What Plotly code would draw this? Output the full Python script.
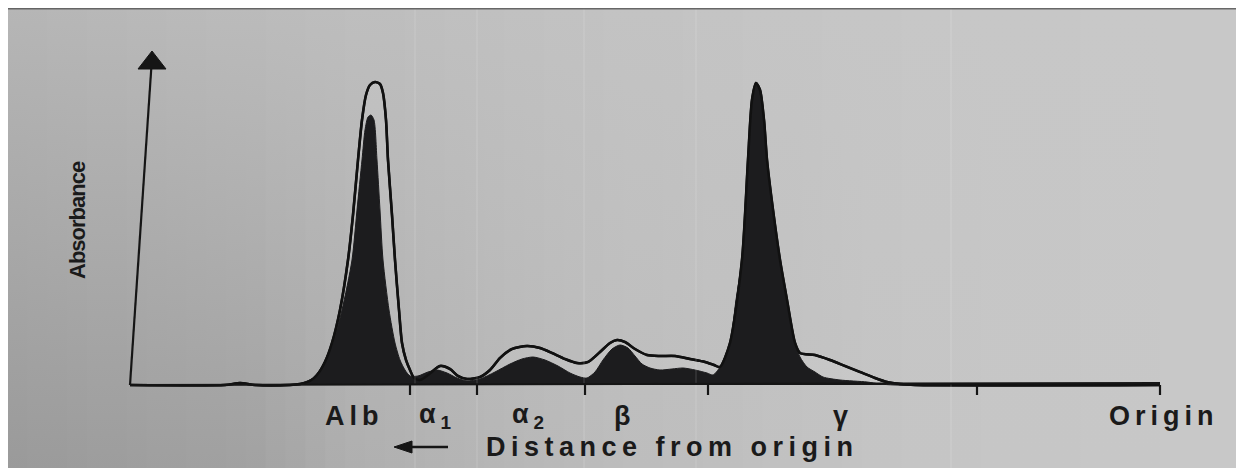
import plotly.graph_objects as go
import numpy as np

# ---------------- data (x = migration position, y = absorbance) ----------------
total_x = [130, 225, 240, 255, 290, 300, 310, 317, 325, 332, 340, 348, 353, 358, 362, 366, 370, 375,
           380, 383, 386, 388, 392, 395, 399, 402, 406, 410, 414, 420, 428, 440, 450, 458, 467, 480,
           490, 500, 512, 527, 540, 552, 565, 577, 588, 600, 610, 617, 625, 635, 647, 660, 675, 690,
           705, 714, 720, 730, 742, 748, 752, 756, 760, 764, 767, 773, 780, 787, 795, 800, 815, 830,
           845, 860, 875, 887, 900, 915, 1160]
total_y = [0, 0, 2, 0, 0, 1, 4, 10, 23, 42, 75, 125, 170, 225, 265, 290, 300, 303,
           301, 292, 265, 225, 170, 125, 75, 42, 25, 15, 7, 5, 10, 19, 16, 9, 6, 8,
           15, 27, 36, 39, 37, 32, 26, 22, 23, 33, 42, 45, 43, 36, 30, 29, 29, 26,
           23, 20, 18, 42, 125, 225, 285, 302, 295, 265, 225, 175, 125, 85, 42, 32, 30, 25,
           19, 13, 7, 3, 1, 0, 0]

frac_x = [130, 225, 240, 255, 295, 305, 313, 320, 326, 333, 342, 352, 357, 362, 365, 368, 371, 374,
          377, 380, 383, 389, 395, 400, 405, 410, 418, 428, 437, 447, 457, 467, 480, 495, 510, 522,
          533, 545, 558, 570, 580, 587, 595, 603, 612, 620, 628, 635, 642, 650, 660, 672, 683, 695,
          707, 713, 720, 730, 736, 742, 745, 748, 751, 753, 756, 759, 762, 764, 767, 770, 773, 780,
          787, 795, 800, 807, 815, 823, 840, 867, 880, 895, 1160]
frac_y = [0, 0, 2, 0, 0, 3, 7, 15, 27, 42, 75, 125, 175, 225, 255, 268, 270, 265,
          225, 175, 125, 75, 42, 25, 15, 9, 9, 13, 15, 12, 7, 4, 6, 13, 21, 26,
          28, 25, 19, 12, 8, 7, 13, 25, 36, 40, 37, 29, 21, 17, 15, 16, 17, 15,
          12, 10, 18, 42, 85, 125, 175, 225, 275, 293, 302, 299, 285, 265, 225, 200, 175, 125,
          85, 42, 28, 18, 13, 8, 5, 3, 1, 0, 0]

fraction_labels = ["Alb", "α<sub>1</sub>", "α<sub>2</sub>", "β", "γ", "Origin"]
fraction_label_x = [354, 437, 530, 624, 843, 1164]
boundary_ticks = [410, 477, 585, 708, 977, 1160]

# ---------------- figure ----------------
# the page adds an 8 px body margin; the figure fills the rest of the window
PAGE_M = 8
W, H = 1244 - PAGE_M, 468 - PAGE_M
X0, X1 = PAGE_M, 1244            # data x == window pixel x
Y_TOP, Y_BOT = 385 - PAGE_M, 385 - 468   # data y == 385 - window pixel y

fig = go.Figure()

# photographed paper background: strips with vertical gradients
def top_col(x):
    return np.interp(x, [0, 300, 600, 900, 1244], [182, 189, 195, 199, 201])

def bot_col(x):
    return np.interp(x, [0, 250, 350, 600, 900, 1244], [154, 162, 175, 188, 197, 201])

edges = np.linspace(X0, 1240, 63)
for a, b in zip(edges[:-1], edges[1:]):
    xm = 0.5 * (a + b)
    t = int(top_col(xm)); bt = int(bot_col(xm))
    fig.add_trace(go.Scatter(
        x=[a - 0.6, b + 0.6, b + 0.6, a - 0.6, a - 0.6],
        y=[Y_TOP, Y_TOP, Y_BOT, Y_BOT, Y_TOP],
        mode="lines", line=dict(width=0), fill="toself",
        fillgradient=dict(type="vertical",
                          colorscale=[[0, f"rgb({bt},{bt},{bt})"], [1, f"rgb({t},{t},{t})"]]),
        hoverinfo="skip", showlegend=False))

# faint paper lines
for gx in [415, 477, 584, 696, 951]:
    fig.add_shape(type="line", x0=gx, x1=gx, y0=Y_BOT, y1=Y_TOP,
                  line=dict(color="rgba(255,255,255,0.12)", width=1.5))

# total protein envelope (light fill, black outline)
fig.add_trace(go.Scatter(
    x=total_x, y=total_y, mode="lines",
    line=dict(color="#111111", width=2.6, shape="spline", smoothing=0.7),
    fill="tozeroy", fillcolor="rgba(255,255,255,0.08)",
    hoverinfo="skip", showlegend=False))

# fraction curve (solid black)
fig.add_trace(go.Scatter(
    x=frac_x, y=frac_y, mode="lines",
    line=dict(color="#1c1c1e", width=1, shape="spline", smoothing=0.7),
    fill="tozeroy", fillcolor="#1c1c1e",
    hoverinfo="skip", showlegend=False))

# redraw outline line on top
fig.add_trace(go.Scatter(
    x=total_x, y=total_y, mode="lines",
    line=dict(color="#111111", width=2.4, shape="spline", smoothing=0.7),
    hoverinfo="skip", showlegend=False))

# axes
axis_col = "#151515"
fig.add_shape(type="line", x0=130, y0=0, x1=1160, y1=2, line=dict(color=axis_col, width=2.2))
for tx in boundary_ticks:
    fig.add_shape(type="line", x0=tx, x1=tx, y0=0, y1=-10, line=dict(color=axis_col, width=2.2))
# y axis with arrow head (slightly tilted as in the photo)
fig.add_shape(type="line", x0=130, y0=0, x1=151.5, y1=320, line=dict(color=axis_col, width=2.2))
fig.add_shape(type="path", path="M 152,334 L 138,316 L 166,316 Z",
              fillcolor=axis_col, line=dict(color=axis_col, width=1))
# small arrow left of "Distance from origin"
fig.add_shape(type="line", x0=448, y0=-62, x1=405, y1=-62, line=dict(color=axis_col, width=2.5))
fig.add_shape(type="path", path="M 394,-62 L 412,-56 L 412,-68 Z",
              fillcolor=axis_col, line=dict(color=axis_col, width=1))

# top border line of the photo
fig.add_shape(type="line", x0=X0, x1=1240, y0=Y_TOP - 0.5, y1=Y_TOP - 0.5,
              line=dict(color="rgba(80,80,80,0.8)", width=2))

def spaced(txt, px):
    return f'<span style="letter-spacing:{px}px">{txt}</span>'

font = dict(family="Liberation Sans, Arial", size=27, color="#1a1a1a", weight="bold")
for lab, lx in zip(fraction_labels, fraction_label_x):
    fig.add_annotation(x=lx, y=-31, text=spaced(lab, 5), showarrow=False, font=font,
                       xanchor="center", yanchor="middle")
fig.add_annotation(x=672, y=-62, text=spaced("Distance from origin", 5.5), showarrow=False,
                   font=font, xanchor="center", yanchor="middle")
fig.add_annotation(x=77, y=165, text=spaced("Absorbance", -1), showarrow=False, textangle=-90,
                   font=dict(family="Liberation Sans, Arial", size=22, color="#1a1a1a",
                             weight="bold"),
                   xanchor="center", yanchor="middle")

fig.update_layout(
    width=W, height=H, margin=dict(l=0, r=0, t=0, b=0),
    paper_bgcolor="white", plot_bgcolor="white",
    xaxis=dict(range=[X0, X1], visible=False, fixedrange=True),
    yaxis=dict(range=[Y_BOT, Y_TOP], visible=False, fixedrange=True),
    showlegend=False)

fig.write_html("out.html")
